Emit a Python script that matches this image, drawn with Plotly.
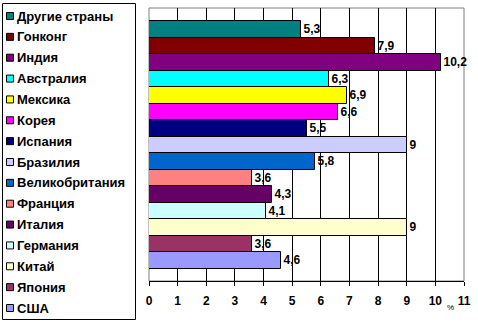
import plotly.graph_objects as go

countries = ["Другие страны", "Гонконг", "Индия", "Австралия", "Мексика", "Корея",
             "Испания", "Бразилия", "Великобритания", "Франция", "Италия",
             "Германия", "Китай", "Япония", "США"]
values = [5.3, 7.9, 10.2, 6.3, 6.9, 6.6, 5.5, 9, 5.8, 3.6, 4.3, 4.1, 9, 3.6, 4.6]
colors = ["#008080", "#800000", "#800080", "#00FFFF", "#FFFF00", "#FF00FF",
          "#000080", "#CCCCFF", "#0066CC", "#FF8080", "#660066", "#CCFFFF",
          "#FFFFCC", "#993366", "#9999FF"]
x_ticks = list(range(0, 12))
unit_label = "%"

W, H = 478, 324
L, R, T, B = 149, 14, 8, 43
PW, PH = W - L - R, H - T - B

def px(x):
    return (x - L) / PW

def py(y):
    return (H - B - y) / PH

FONT = "Liberation Sans, Arial, sans-serif"

fig = go.Figure()
fig.add_trace(go.Bar(
    y=countries, x=values, orientation="h",
    marker=dict(color=colors, line=dict(color="black", width=1)),
    texttemplate="%{x}", textposition="outside",
    textfont=dict(family=FONT, size=12, color="black", weight="bold"),
    constraintext="none", cliponaxis=False, showlegend=False,
))

shapes = [
    # grey plot frame
    dict(type="rect", xref="paper", yref="paper", x0=0, x1=1, y0=0, y1=1,
         line=dict(color="#808080", width=1), layer="between"),
    # legend box
    dict(type="rect", xref="paper", yref="paper", x0=px(2.5), x1=px(135.5),
         y0=py(319.5), y1=py(3.5), line=dict(color="black", width=1),
         fillcolor="white", layer="above"),
]
annotations = []
y_first, pitch = 16, (308 - 16) / 14
for i, (name, col) in enumerate(zip(countries, colors)):
    yc = y_first + i * pitch
    shapes.append(dict(type="rect", xref="paper", yref="paper",
                       x0=px(6.5), x1=px(13.5), y0=py(yc + 3.5), y1=py(yc - 3.5),
                       fillcolor=col, line=dict(color="black", width=1), layer="above"))
    annotations.append(dict(text=name, xref="paper", yref="paper",
                            x=px(15), y=py(yc), xanchor="left", yanchor="middle",
                            showarrow=False,
                            font=dict(family=FONT, size=13, color="black", weight="bold")))

annotations.append(dict(text=unit_label, xref="paper", yref="paper",
                        x=px(456), y=py(307), xanchor="right", yanchor="middle",
                        showarrow=False, font=dict(family=FONT, size=8, color="black")))

fig.update_layout(
    width=W, height=H, margin=dict(l=L, r=R, t=T, b=B),
    paper_bgcolor="white", plot_bgcolor="white",
    bargap=0, separators=", ",
    shapes=shapes, annotations=annotations,
    xaxis=dict(range=[0, 11], tickvals=x_ticks, showgrid=True, gridcolor="black",
               gridwidth=1, zeroline=False, showline=True, linecolor="black",
               linewidth=1, ticks="outside", ticklen=4, tickcolor="black",
               ticklabelstandoff=5,
               tickfont=dict(family=FONT, size=12, color="black", weight="bold")),
    yaxis=dict(type="category", categoryorder="array", categoryarray=countries,
               range=[14.5 + 0.75, -0.5 - 0.8], showticklabels=False,
               showgrid=False, zeroline=False, ticks=""),
)

fig.write_html("out.html")
